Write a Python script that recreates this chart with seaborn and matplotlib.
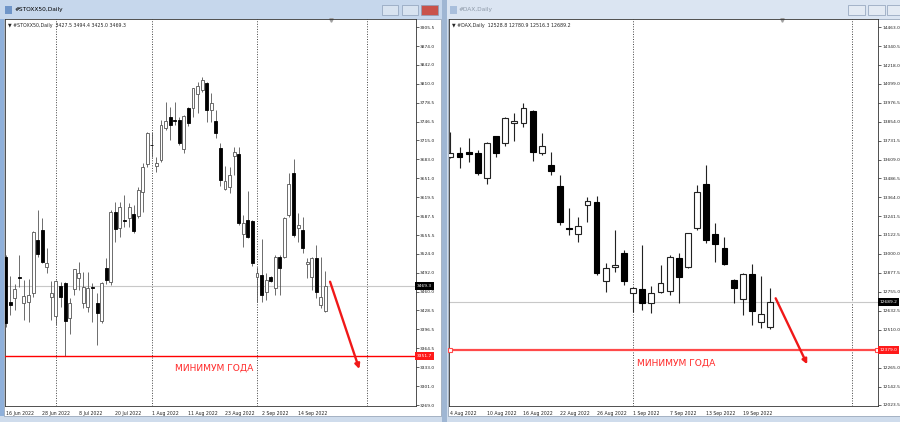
import numpy as np
import matplotlib.pyplot as plt
import matplotlib.patches as mpatches
import matplotlib.transforms as mtransforms
import seaborn as sns

sns.set_style("white")
plt.rcParams['font.family'] = ['DejaVu Sans']

# ---- STOXX50 daily (bar 0 = 16 Jun 2022)
stoxx_open = [3519.0, 3443.1, 3448.9, 3484.2, 3440.4, 3443.1, 3458.3, 3547.1, 3563.9, 3502.1,
              3451.6, 3419.5, 3470.1, 3475.2, 3415.2, 3464.0, 3482.6, 3441.5, 3434.7, 3468.0,
              3440.4, 3411.1, 3499.4, 3476.8, 3594.8, 3566.8, 3580.5, 3583.7, 3590.4, 3587.5,
              3628.5, 3675.2, 3708.0, 3671.8, 3681.9, 3735.3, 3753.8, 3748.5, 3749.3, 3699.9,
              3770.0, 3769.0, 3792.6, 3799.8, 3812.2, 3766.1, 3748.1, 3701.6, 3632.5, 3636.9,
              3689.1, 3692.0, 3557.2, 3580.8, 3579.1, 3484.2, 3488.1, 3460.0, 3484.2, 3465.7,
              3519.0, 3517.9, 3589.2, 3659.5, 3566.8, 3563.9, 3506.7, 3484.2, 3516.3, 3437.6,
              3427.5]
stoxx_high = [3522.0, 3486.4, 3473.0, 3521.8, 3479.7, 3480.9, 3562.2, 3597.6, 3583.7, 3533.1,
              3478.5, 3479.7, 3476.8, 3476.8, 3448.9, 3498.5, 3510.5, 3493.7, 3493.7, 3474.1,
              3457.3, 3476.8, 3516.3, 3597.6, 3611.6, 3611.6, 3622.9, 3608.9, 3606.1, 3636.9,
              3676.3, 3729.6, 3729.6, 3687.5, 3749.3, 3780.1, 3771.7, 3780.1, 3754.9, 3757.7,
              3771.7, 3803.5, 3813.8, 3822.3, 3813.8, 3794.3, 3766.1, 3710.0, 3671.8, 3670.6,
              3703.3, 3703.3, 3589.2, 3629.7, 3580.8, 3502.1, 3548.3, 3491.0, 3486.4, 3521.8,
              3521.8, 3586.4, 3659.5, 3683.1, 3592.1, 3586.4, 3516.3, 3519.0, 3538.7, 3517.9,
              3494.4]
stoxx_low = [3401.0, 3420.7, 3429.1, 3468.4, 3412.3, 3409.4, 3451.6, 3519.0, 3509.0, 3492.0,
             3412.3, 3403.9, 3434.7, 3351.7, 3388.7, 3454.4, 3462.8, 3432.0, 3426.3, 3409.4,
             3370.2, 3407.8, 3473.0, 3471.3, 3544.2, 3551.7, 3569.5, 3569.5, 3558.4, 3583.7,
             3594.8, 3670.6, 3687.5, 3662.2, 3679.0, 3732.4, 3715.6, 3740.9, 3707.2, 3693.2,
             3739.2, 3754.9, 3760.6, 3796.0, 3746.4, 3746.4, 3718.5, 3638.1, 3631.3, 3625.8,
             3656.6, 3572.4, 3535.8, 3550.0, 3503.3, 3443.1, 3443.1, 3446.0, 3476.3, 3454.4,
             3454.4, 3516.3, 3586.4, 3553.0, 3544.2, 3524.7, 3482.6, 3462.8, 3448.9, 3432.0,
             3425.0]
stoxx_close = [3407.8, 3437.6, 3464.0, 3483.0, 3453.2, 3454.4, 3561.1, 3523.5, 3510.5, 3507.8,
               3458.3, 3478.5, 3451.6, 3411.1, 3440.4, 3497.7, 3492.0, 3468.4, 3466.7, 3466.5,
               3423.6, 3475.2, 3479.7, 3594.8, 3565.1, 3602.2, 3579.1, 3603.2, 3562.8, 3631.3,
               3670.6, 3726.9, 3706.5, 3676.3, 3740.9, 3747.6, 3740.9, 3747.0, 3710.0, 3756.0,
               3743.7, 3802.7, 3806.6, 3816.7, 3766.1, 3778.5, 3727.9, 3648.2, 3647.0, 3656.6,
               3695.9, 3575.2, 3575.2, 3551.7, 3507.8, 3491.0, 3454.4, 3479.7, 3478.5, 3519.0,
               3499.4, 3583.7, 3641.0, 3555.5, 3572.4, 3533.1, 3510.5, 3516.3, 3460.0, 3451.6,
               3469.3]
stoxx_date_labels = ['16 Jun 2022', '28 Jun 2022', '8 Jul 2022', '20 Jul 2022', '1 Aug 2022',
                     '11 Aug 2022', '23 Aug 2022', '2 Sep 2022', '14 Sep 2022']
stoxx_date_bars = [0, 8, 16, 24, 32, 40, 48, 56, 64]
stoxx_month_bars = [11, 32, 55, 79]
stoxx_price_ticks = [3905.5, 3874.0, 3842.0, 3810.0, 3778.5, 3746.5, 3715.0, 3683.0, 3651.0,
                     3619.5, 3587.5, 3555.5, 3524.0, 3492.0, 3460.0, 3428.5, 3396.5, 3364.5,
                     3333.0, 3301.0, 3269.0]
stoxx_year_min = 3351.7
stoxx_arrow = [(71.0, 3476.8), (77.4, 3329.7)]
stoxx_note = (45.6, 3332.0)

# ---- DAX daily (bar 0 = 4 Aug 2022)
dax_open = [13623.2, 13649.1, 13659.4, 13649.1, 13487.6, 13760.8, 13713.7, 13842.9, 13842.9,
            13924.3, 13649.1, 13573.5, 13439.8, 13164.0, 13127.8, 13315.1, 13332.5, 12826.1,
            12912.6, 13007.0, 12744.7, 12772.5, 12680.1, 12755.0, 12761.5, 12970.8, 12912.6,
            13168.5, 13450.8, 13127.8, 13035.4, 12832.5, 12705.9, 12869.4, 12561.2, 12528.8]
dax_high = [13788.6, 13691.7, 13746.0, 13670.4, 13724.0, 13762.0, 13881.6, 13907.5, 13972.1,
            13928.8, 13778.3, 13655.5, 13508.9, 13293.8, 13235.6, 13364.8, 13373.2, 12942.4,
            13153.6, 13024.4, 12783.0, 13056.7, 12791.8, 12927.5, 12992.1, 13007.0, 13134.0,
            13444.3, 13573.5, 13196.9, 13106.4, 12834.0, 12873.9, 12934.0, 12856.4, 12780.9]
dax_low = [13618.7, 13552.2, 13594.8, 13508.9, 13450.8, 13627.1, 13696.2, 13730.5, 13820.9,
           13601.3, 13638.1, 13508.9, 13185.9, 13121.3, 13078.0, 13207.2, 12862.9, 12755.0,
           12884.2, 12798.3, 12623.9, 12636.8, 12615.5, 12748.6, 12733.7, 12680.1, 12910.0,
           13153.6, 13067.7, 12948.8, 12927.5, 12684.0, 12604.5, 12539.9, 12518.6, 12516.3]
dax_close = [13653.0, 13623.2, 13642.6, 13523.8, 13717.6, 13653.0, 13875.2, 13857.7, 13939.8,
             13659.4, 13696.2, 13534.7, 13207.2, 13160.1, 13181.4, 13340.9, 12877.8, 12910.1,
             12927.5, 12826.1, 12780.9, 12680.1, 12744.7, 12809.3, 12977.2, 12851.9, 13132.3,
             13397.1, 13089.0, 13063.2, 12934.0, 12777.0, 12867.4, 12632.3, 12609.0, 12689.2]
dax_date_labels = ['4 Aug 2022', '10 Aug 2022', '16 Aug 2022', '22 Aug 2022', '26 Aug 2022',
                   '1 Sep 2022', '7 Sep 2022', '13 Sep 2022', '19 Sep 2022']
dax_date_bars = [0, 4, 8, 12, 16, 20, 24, 28, 32]
dax_month_bars = [20, 44]
dax_price_ticks = [14463.0, 14340.5, 14218.0, 14099.0, 13976.5, 13854.0, 13731.5, 13609.0,
                   13486.5, 13364.0, 13241.5, 13122.5, 13000.0, 12877.5, 12755.0, 12632.5,
                   12510.0, 12265.0, 12142.5, 12023.5]
dax_year_min = 12379.0
dax_arrow = [(35.6, 12712.4), (39.05, 12286.0)]
dax_note = (24.7, 12292.0)

W, H = 900, 422
fig = plt.figure(figsize=(W / 100, H / 100), dpi=100)
fig.patch.set_facecolor('#cfdcec')


def px_rect(x0, y0, x1, y1, **kw):
    fig.patches.append(mpatches.Rectangle((x0 / W, 1 - y1 / H), (x1 - x0) / W, (y1 - y0) / H,
                                          transform=fig.transFigure, figure=fig,
                                          zorder=-5, **kw))


# window frames
px_rect(0, 0, 443, 19, facecolor='#c6d7ec', edgecolor='none')
px_rect(447, 0, 900, 19, facecolor='#dbe5f2', edgecolor='none')
px_rect(442, 0, 447, 422, facecolor='#9fb6d3', edgecolor='none')
px_rect(0, 19, 4, 416, facecolor='#8fb0da', edgecolor='none')
px_rect(4, 19, 441, 416, facecolor='white', edgecolor='#8a9bb0', lw=0.5)
px_rect(448, 19, 900, 416, facecolor='white', edgecolor='#8a9bb0', lw=0.5)
# title-bar icons and buttons
px_rect(5, 6, 12, 14, facecolor='#6f95c8', edgecolor='none')
px_rect(450, 6, 457, 14, facecolor='#a9bfdc', edgecolor='none')
for x0, x1, fc in [(382, 398, '#d8e3f0'), (402, 418, '#d8e3f0'), (421, 438, '#c9524a'),
                   (848, 865, '#e3eaf3'), (868, 885, '#e3eaf3'), (887, 903, '#e3eaf3')]:
    px_rect(x0, 5, x1, 15, facecolor=fc, edgecolor='#8c9fb8', lw=0.5)
fig.text(15 / W, 1 - 10 / H, '#STOXX50,Daily', fontsize=4.2, va='center', color='black')
fig.text(459 / W, 1 - 10 / H, '#DAX,Daily', fontsize=4.2, va='center', color='#8d99a8')


def draw_chart(rect, name, o, h, l, c, xlim, ylim, ticks, date_bars, date_labels,
               month_bars, year_min, arrow, note, lw, doji, red_lw, red_color, wick):
    ax = fig.add_axes(rect)
    ax.set_facecolor('white')
    o, h, l, c = map(np.asarray, (o, h, l, c))
    x = np.arange(len(o))
    up = c >= o
    body_lo = np.minimum(o, c)
    body_h = np.maximum(np.abs(c - o), doji)
    ax.vlines(x, l, h, color=wick, lw=lw, zorder=3)
    ax.bar(x[up], body_h[up], 0.64, bottom=body_lo[up], color='white',
           edgecolor=wick, lw=lw, zorder=4)
    ax.bar(x[~up], body_h[~up], 0.64, bottom=body_lo[~up], color='black',
           edgecolor='black', lw=lw, zorder=4)

    for m in month_bars:
        ax.axvline(m, color='#444444', lw=0.7, ls=(0, (1, 1.6)), zorder=1)
    ax.axhline(c[-1], color='#c8c8c8', lw=0.8, zorder=1)
    ax.axhline(year_min, color=red_color, lw=red_lw, zorder=5)
    if red_lw > 1:
        ax.plot([xlim[0] + 0.1, xlim[1] - 0.1], [year_min, year_min], ls='none', marker='s',
                ms=2.2, mfc='white', mec=red_color, mew=0.8, zorder=6, clip_on=False)

    ax.annotate('', xy=arrow[1], xytext=arrow[0],
                arrowprops=dict(arrowstyle='-|>', color='#f01818', lw=1.7,
                                mutation_scale=7, shrinkA=0, shrinkB=0), zorder=7)
    ax.text(note[0], note[1], 'МИНИМУМ ГОДА', color='#ff2a2a', fontsize=6.6,
            ha='center', va='center', zorder=7)

    blend = mtransforms.blended_transform_factory(ax.transData, ax.transAxes)
    ax.plot([len(o) + 0.3], [0.997], transform=blend, marker='v', color='#a0a0a0', ms=2.5,
            clip_on=False)
    ax.text(0.007, 0.99, '\u25bc %s  %.1f %.1f %.1f %.1f' % (name, o[-1], h[-1], l[-1], c[-1]),
            transform=ax.transAxes, fontsize=3.4, va='top', ha='left')

    ax.set_xlim(*xlim)
    ax.set_ylim(*ylim)
    ax.yaxis.tick_right()
    ax.set_yticks(ticks)
    ax.set_yticklabels(['%.1f' % t for t in ticks])
    ax.set_xticks(date_bars)
    ax.set_xticklabels(date_labels, ha='left')
    ax.tick_params(axis='y', length=2, width=0.5, labelsize=3.2, pad=1.2, direction='out',
                   colors='#222222')
    ax.tick_params(axis='x', length=2.5, width=0.5, labelsize=3.3, pad=0.8, direction='out',
                   colors='#222222')
    for s in ax.spines.values():
        s.set_linewidth(0.6)
        s.set_color('#333333')

    yblend = mtransforms.blended_transform_factory(ax.transAxes, ax.transData)
    ax.text(1.004, c[-1], '%.1f' % c[-1], transform=yblend, color='white', fontsize=3.2,
            va='center', ha='left', zorder=8,
            bbox=dict(facecolor='black', edgecolor='none', pad=1.3))
    ax.text(1.004, year_min, '%.1f' % year_min, transform=yblend, color='white', fontsize=3.2,
            va='center', ha='left', zorder=8,
            bbox=dict(facecolor='#ff1a1a', edgecolor='none', pad=1.3))
    return ax


draw_chart([5 / W, 16 / H, 410.5 / W, 386.7 / H], '#STOXX50,Daily',
           stoxx_open, stoxx_high, stoxx_low, stoxx_close,
           (-0.15, 89.7), (3267.4, 3919.0), stoxx_price_ticks,
           stoxx_date_bars, stoxx_date_labels, stoxx_month_bars, stoxx_year_min,
           stoxx_arrow, stoxx_note, lw=0.6, doji=1.2, red_lw=1.0, red_color='#ff0000',
           wick='#555555')
draw_chart([449 / W, 16 / H, 429 / W, 386.7 / H], '#DAX,Daily',
           dax_open, dax_high, dax_low, dax_close,
           (-0.15, 46.8), (12016.6, 14514.7), dax_price_ticks,
           dax_date_bars, dax_date_labels, dax_month_bars, dax_year_min,
           dax_arrow, dax_note, lw=0.8, doji=5.0, red_lw=1.6, red_color='#ff4a4a',
           wick='#222222')

fig.savefig('out.png', dpi=100, facecolor=fig.get_facecolor())
